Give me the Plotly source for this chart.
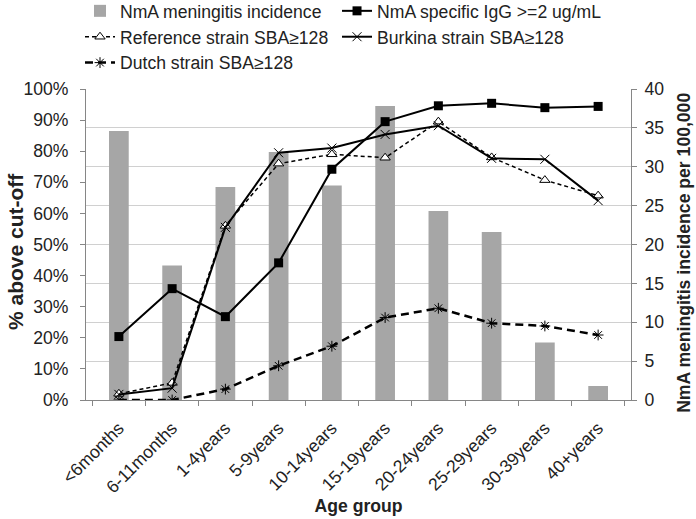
import plotly.graph_objects as go

categories = ["<6months", "6-11months", "1-4years", "5-9years", "10-14years",
              "15-19years", "20-24years", "25-29years", "30-39years", "40+years"]
incidence = [34.6, 17.3, 27.4, 31.9, 27.6, 37.8, 24.3, 21.6, 7.4, 1.8]
igg = [0.204, 0.358, 0.268, 0.441, 0.742, 0.895, 0.946, 0.954, 0.940, 0.944]
reference = [0.020, 0.055, 0.560, 0.760, 0.790, 0.779, 0.895, 0.780, 0.707, 0.657]
burkina = [0.018, 0.038, 0.555, 0.795, 0.810, 0.854, 0.882, 0.777, 0.774, 0.641]
dutch = [0.000, 0.000, 0.035, 0.110, 0.173, 0.265, 0.295, 0.247, 0.238, 0.209]

FONT = "Liberation Sans, Arial, sans-serif"
FS = 17.6
fig = go.Figure()

fig.add_trace(go.Bar(x=categories, y=incidence, name="NmA meningitis incidence",
                     marker=dict(color="#a6a6a6", line=dict(width=0)), yaxis="y",
                     legend="legend"))
fig.add_trace(go.Scatter(x=categories, y=igg, name="NmA specific IgG >=2 ug/mL",
                         mode="lines+markers", yaxis="y2", legend="legend2",
                         line=dict(color="black", width=2),
                         marker=dict(symbol="square", size=9, color="black")))
fig.add_trace(go.Scatter(x=categories, y=reference, name="Reference strain SBA≥128",
                         mode="lines+markers", yaxis="y2", legend="legend",
                         line=dict(color="black", width=1.5, dash="4px,3px"),
                         marker=dict(symbol="triangle-up", size=9, color="white",
                                     line=dict(color="black", width=1))))
fig.add_trace(go.Scatter(x=categories, y=burkina, name="Burkina strain SBA≥128",
                         mode="lines+markers", yaxis="y2", legend="legend2",
                         line=dict(color="black", width=2),
                         marker=dict(symbol="x-thin-open", size=9, color="black",
                                     line=dict(color="black", width=1))))
fig.add_trace(go.Scatter(x=categories, y=dutch, name="Dutch strain SBA≥128",
                         mode="lines+markers", yaxis="y2", legend="legend",
                         line=dict(color="black", width=2.5, dash="8px,5px"),
                         marker=dict(symbol="asterisk-open", size=9, color="black",
                                     line=dict(color="black", width=1))))

legend_style = dict(orientation="v", xanchor="left", yanchor="top",
                    font=dict(size=FS, color="#222"), bgcolor="rgba(0,0,0,0)",
                    traceorder="normal", tracegroupgap=0)

fig.update_layout(
    width=696, height=519,
    margin=dict(l=86, r=65, t=89, b=119, autoexpand=False),
    paper_bgcolor="white", plot_bgcolor="white",
    font=dict(family=FONT, size=FS, color="#222"),
    bargap=0.63,
    showlegend=True,
    legend=dict(x=-0.011, y=1.309, **legend_style),
    legend2=dict(x=0.4606, y=1.309, **legend_style),
    xaxis=dict(type="category", tickangle=-45, tickson="boundaries",
               ticks="outside", ticklen=5, tickcolor="#868686",
               showline=True, linecolor="#868686", linewidth=1,
               tickfont=dict(size=FS), ticklabelstandoff=10,
               title=dict(text="<b>Age group</b>", font=dict(size=FS), standoff=3)),
    yaxis=dict(side="right", range=[0, 40], dtick=5, showgrid=True,
               gridcolor="#d0d0d0", gridwidth=1,
               ticks="outside", ticklen=5, tickcolor="#868686",
               showline=True, linecolor="#868686", zeroline=False,
               ticklabelstandoff=4),
    yaxis2=dict(overlaying="y", side="left", range=[0, 1], dtick=0.1, tickformat=".0%",
                showgrid=False, ticks="outside", ticklen=5, tickcolor="#868686",
                showline=True, linecolor="#868686", zeroline=False,
                ticklabelstandoff=8),
    annotations=[
        dict(text="<b>NmA meningitis incidence per 100,000</b>",
             xref="paper", yref="paper", x=1.0972, y=0.473,
             xanchor="center", yanchor="middle", textangle=-90,
             showarrow=False, font=dict(size=FS, color="#222")),
        dict(text="<b>% above cut-off</b>",
             xref="paper", yref="paper", x=-0.1284, y=0.476,
             xanchor="center", yanchor="middle", textangle=-90,
             showarrow=False, font=dict(size=21, color="#222")),
    ],
)

fig.write_html("out.html", config={"displayModeBar": False},
               post_script="document.body.style.margin='0';")
